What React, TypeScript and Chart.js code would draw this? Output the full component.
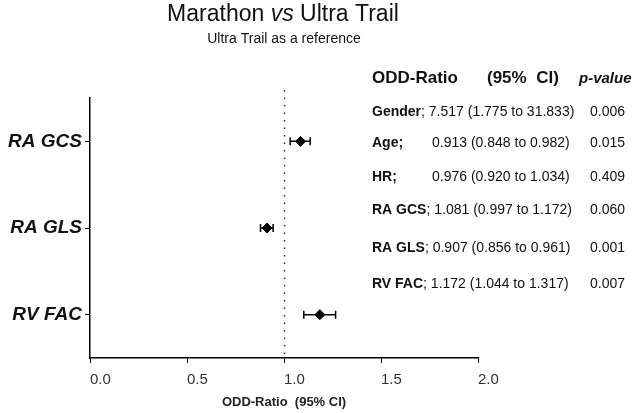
import React, { useEffect, useRef } from "react";
import { Chart, registerables } from "chart.js";

Chart.register(...registerables);

const FONT = "'Liberation Sans', Arial, sans-serif";

// Forest plot data
const categories = ["RA GCS", "RA GLS", "RV FAC"];
const estimates = [1.085, 0.913, 1.185];
const lowerCI = [1.032, 0.879, 1.102];
const upperCI = [1.135, 0.944, 1.266];
const referenceValue = 1.0;

const xTickValues = [0, 0.5, 1, 1.5, 2];
const xTickLabels = ["0.0", "0.5", "1.0", "1.5", "2.0"];

// Table on the right
const rowLabels = ["Gender", "Age", "HR", "RA GCS", "RA GLS", "RV FAC"];
const rowOR = ["7.517", "0.913", "0.976", "1.081", "0.907", "1.172"];
const rowLow = ["1.775", "0.848", "0.920", "0.997", "0.856", "1.044"];
const rowHigh = ["31.833", "0.982", "1.034", "1.172", "0.961", "1.317"];
const rowP = ["0.006", "0.015", "0.409", "0.060", "0.001", "0.007"];
const rowY = [112, 143.5, 177, 210, 248, 284];

const titleParts = ["Marathon ", "vs", " Ultra Trail"];
const subtitle = "Ultra Trail as a reference";

const overlayPlugin = {
  id: "overlay",
  beforeDatasetsDraw(chart: any) {
    const { ctx, chartArea, scales } = chart;
    const x = scales.x;
    const y = scales.y;
    ctx.save();
    // dotted reference line
    ctx.strokeStyle = "#333";
    ctx.lineWidth = 1.5;
    ctx.setLineDash([1.5, 6]);
    const rx = Math.round(x.getPixelForValue(referenceValue)) + 0.5;
    ctx.beginPath();
    ctx.moveTo(rx, chartArea.top - 8);
    ctx.lineTo(rx, chartArea.bottom);
    ctx.stroke();
    ctx.setLineDash([]);
    // error bars
    ctx.strokeStyle = "#000";
    ctx.lineWidth = 1.5;
    categories.forEach((_c, i) => {
      const py = y.getPixelForValue(i);
      const x1 = x.getPixelForValue(lowerCI[i]);
      const x2 = x.getPixelForValue(upperCI[i]);
      ctx.beginPath();
      ctx.moveTo(x1, py);
      ctx.lineTo(x2, py);
      ctx.moveTo(x1, py - 4);
      ctx.lineTo(x1, py + 4);
      ctx.moveTo(x2, py - 4);
      ctx.lineTo(x2, py + 4);
      ctx.stroke();
    });
    ctx.restore();
  },
  afterDraw(chart: any) {
    const { ctx } = chart;
    ctx.save();
    ctx.fillStyle = "#111";
    ctx.textBaseline = "alphabetic";
    ctx.textAlign = "left";
    // Title
    const tFonts = [`23px ${FONT}`, `italic 23px ${FONT}`, `23px ${FONT}`];
    const widths = titleParts.map((p, i) => {
      ctx.font = tFonts[i];
      return ctx.measureText(p).width;
    });
    const total = widths.reduce((a, b) => a + b, 0);
    let tx = 283 - total / 2;
    titleParts.forEach((p, i) => {
      ctx.font = tFonts[i];
      ctx.fillText(p, tx, 21);
      tx += widths[i];
    });
    // Subtitle
    ctx.font = `14px ${FONT}`;
    ctx.textAlign = "center";
    ctx.fillText(subtitle, 284, 43);
    ctx.textAlign = "left";

    // Table header
    ctx.font = `bold 17px ${FONT}`;
    ctx.fillText("ODD-Ratio", 372, 83);
    ctx.fillText("(95%  CI)", 487, 83);
    ctx.font = `italic bold 15px ${FONT}`;
    ctx.fillText("p-value", 579, 83);

    // Table rows
    ctx.textBaseline = "middle";
    rowLabels.forEach((lab, i) => {
      const yy = rowY[i];
      const valueText = `${rowOR[i]} (${rowLow[i]} to ${rowHigh[i]})`;
      ctx.font = `bold 14px ${FONT}`;
      if (lab === "Age" || lab === "HR") {
        ctx.fillText(lab + ";", 372, yy);
        ctx.font = `14px ${FONT}`;
        ctx.fillText(valueText, 432, yy);
      } else {
        ctx.fillText(lab, 372, yy);
        const lw = ctx.measureText(lab).width;
        ctx.font = `14px ${FONT}`;
        ctx.fillText("; " + valueText, 372 + lw, yy);
      }
      ctx.font = `14px ${FONT}`;
      ctx.fillText(rowP[i], 590, yy);
    });
    ctx.restore();
  },
};

export default function App() {
  const canvasRef = useRef<HTMLCanvasElement | null>(null);

  useEffect(() => {
    if (!canvasRef.current) return;
    const chart = new Chart(canvasRef.current, {
      type: "scatter",
      data: {
        datasets: [
          {
            data: categories.map((c, i) => ({ x: estimates[i], y: c })) as any,
            pointStyle: "rectRot",
            pointRadius: 5,
            pointHoverRadius: 5,
            backgroundColor: "#000",
            borderColor: "#000",
            borderWidth: 1,
          },
        ],
      },
      options: {
        animation: false,
        responsive: false,
        events: [],
        layout: { padding: { top: 98, right: 160, left: 0, bottom: 0 } },
        plugins: {
          legend: { display: false },
          tooltip: { enabled: false },
          title: { display: false },
        },
        scales: {
          x: {
            type: "linear",
            min: 0,
            max: 2,
            afterBuildTicks: (scale: any) => {
              scale.ticks = xTickValues.map((v) => ({ value: v }));
            },
            afterFit: (scale: any) => {
              scale.height = 55;
            },
            ticks: {
              align: "start",
              callback: (_v: any, i: number) => xTickLabels[i],
              font: { family: FONT, size: 15 },
              color: "#333",
              padding: 8,
            },
            grid: {
              drawOnChartArea: false,
              drawTicks: true,
              tickLength: 5,
              color: "#000",
              lineWidth: 1,
            },
            border: { display: true, color: "#000", width: 1.5 },
            title: {
              display: true,
              text: "ODD-Ratio  (95% CI)",
              font: { family: FONT, size: 13, weight: "bold" },
              color: "#222",
              padding: { top: 0, bottom: 3 },
            },
          } as any,
          y: {
            type: "category",
            labels: categories,
            offset: true,
            afterFit: (scale: any) => {
              scale.width = 90;
            },
            ticks: {
              font: { family: FONT, size: 19, style: "italic", weight: "bold" },
              color: "#111",
              padding: 3,
            },
            grid: {
              drawOnChartArea: false,
              drawTicks: true,
              tickLength: 5,
              color: "#000",
              lineWidth: 1,
            },
            border: { display: true, color: "#000", width: 1.5 },
          } as any,
        },
      },
      plugins: [overlayPlugin],
    });
    return () => chart.destroy();
  }, []);

  return (
    <div style={{ position: "fixed", left: 0, top: 0, width: 638, height: 413, background: "#fff" }}>
      <canvas ref={canvasRef} width={638} height={413} style={{ display: "block" }} />
    </div>
  );
}
